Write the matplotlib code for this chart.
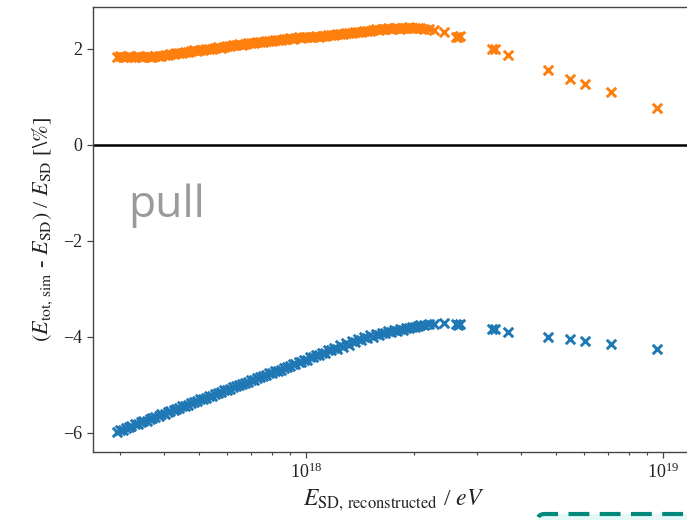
import matplotlib
matplotlib.use("Agg")
import matplotlib.pyplot as plt
from matplotlib.patches import FancyBboxPatch
from matplotlib.ticker import LogLocator, NullFormatter, FixedLocator

plt.rcParams["font.family"] = ["Liberation Serif", "DejaVu Serif"]
plt.rcParams["mathtext.fontset"] = "stix"

# reconstructed SD energy of each event, in units of 1e18 eV
energy = [
    0.295, 0.300, 0.306, 0.312, 0.318, 0.324, 0.331, 0.337, 0.344, 0.350,
    0.357, 0.364, 0.371, 0.378, 0.386, 0.393, 0.401, 0.409, 0.416, 0.425,
    0.433, 0.441, 0.450, 0.458, 0.467, 0.476, 0.486, 0.495, 0.505, 0.514,
    0.524, 0.535, 0.545, 0.556, 0.566, 0.577, 0.589, 0.600, 0.612, 0.623,
    0.636, 0.648, 0.660, 0.673, 0.686, 0.700, 0.713, 0.727, 0.741, 0.756,
    0.770, 0.785, 0.800, 0.816, 0.832, 0.848, 0.864, 0.881, 0.898, 0.916,
    0.933, 0.952, 0.970, 0.989, 1.008, 1.028, 1.047, 1.068, 1.088, 1.110,
    1.131, 1.153, 1.175, 1.198, 1.221, 1.245, 1.269, 1.294, 1.319, 1.345,
    1.371, 1.397, 1.424, 1.452, 1.480, 1.509, 1.538, 1.568, 1.598, 1.629,
    1.661, 1.693, 1.726, 1.760, 1.794, 1.829, 1.864, 1.900, 1.937, 1.975,
    2.013, 2.052, 2.087, 2.141, 2.211, 2.282, 2.433, 2.627, 2.661, 2.695,
    3.306, 3.370, 3.687, 4.763, 5.482, 6.034, 7.126, 9.624,
]

# deviation with the pulled-in ("pull") contribution, in percent
dev_orange = [
    1.84, 1.85, 1.83, 1.84, 1.86, 1.83, 1.84, 1.85, 1.84, 1.83,
    1.85, 1.84, 1.83, 1.85, 1.86, 1.86, 1.88, 1.87, 1.89, 1.90,
    1.91, 1.92, 1.91, 1.94, 1.93, 1.95, 1.97, 1.95, 1.98, 1.97,
    1.99, 2.01, 2.00, 2.02, 2.04, 2.03, 2.05, 2.06, 2.06, 2.08,
    2.08, 2.10, 2.09, 2.11, 2.12, 2.13, 2.12, 2.14, 2.15, 2.14,
    2.16, 2.17, 2.16, 2.18, 2.19, 2.19, 2.21, 2.20, 2.22, 2.21,
    2.23, 2.24, 2.23, 2.25, 2.24, 2.26, 2.25, 2.27, 2.26, 2.28,
    2.27, 2.29, 2.30, 2.29, 2.31, 2.32, 2.31, 2.33, 2.34, 2.33,
    2.35, 2.36, 2.35, 2.37, 2.38, 2.37, 2.39, 2.41, 2.40, 2.42,
    2.41, 2.43, 2.42, 2.43, 2.44, 2.42, 2.44, 2.43, 2.45, 2.44,
    2.44, 2.43, 2.43, 2.42, 2.41, 2.39, 2.35, 2.26, 2.25, 2.27,
    1.99, 2.00, 1.87, 1.56, 1.38, 1.28, 1.11, 0.78,
]

# deviation without it, in percent
dev_blue = [
    -5.97, -5.94, -5.93, -5.90, -5.87, -5.86, -5.82, -5.81, -5.78, -5.75,
    -5.74, -5.70, -5.69, -5.67, -5.64, -5.61, -5.60, -5.56, -5.55, -5.53,
    -5.49, -5.48, -5.44, -5.43, -5.41, -5.37, -5.36, -5.34, -5.30, -5.29,
    -5.27, -5.23, -5.22, -5.18, -5.17, -5.15, -5.11, -5.10, -5.08, -5.04,
    -5.03, -5.01, -4.97, -4.96, -4.94, -4.90, -4.89, -4.86, -4.83, -4.82,
    -4.79, -4.76, -4.75, -4.71, -4.70, -4.68, -4.64, -4.63, -4.60, -4.57,
    -4.56, -4.52, -4.52, -4.47, -4.47, -4.42, -4.42, -4.37, -4.37, -4.33,
    -4.33, -4.27, -4.28, -4.22, -4.24, -4.17, -4.20, -4.13, -4.16, -4.09,
    -4.11, -4.04, -4.07, -4.00, -4.03, -3.96, -3.99, -3.93, -3.96, -3.91,
    -3.92, -3.88, -3.90, -3.86, -3.87, -3.83, -3.85, -3.81, -3.82, -3.79,
    -3.80, -3.77, -3.75, -3.74, -3.73, -3.72, -3.70, -3.73, -3.74, -3.73,
    -3.83, -3.84, -3.90, -4.00, -4.05, -4.09, -4.15, -4.26,
]

x_ev = [e * 1e18 for e in energy]

W, H = 687, 520
fig = plt.figure(figsize=(W / 100, H / 100), dpi=100)
# the frame runs past the right-hand edge of the canvas
ax = fig.add_axes([93 / W, (H - 452) / H, (694 - 93) / W, (452 - 7) / H])

ax.scatter(x_ev, dev_blue, marker="x", s=46, linewidths=2.1,
           color="#1f77b4", zorder=3)
ax.scatter(x_ev, dev_orange, marker="x", s=46, linewidths=2.1,
           color="#ff7f0e", zorder=3)
ax.axhline(0, color="black", lw=1.8, zorder=2)

ax.set_xscale("log")
ax.set_xlim(2.528e17, 1.22e19)
ax.set_ylim(-6.396, 2.875)
ax.yaxis.set_major_locator(FixedLocator([-6, -4, -2, 0, 2]))
ax.xaxis.set_minor_locator(LogLocator(base=10, subs=range(2, 10), numticks=20))
ax.xaxis.set_minor_formatter(NullFormatter())

for side in ("left", "bottom", "top"):
    ax.spines[side].set_color("#444444")
    ax.spines[side].set_linewidth(1.0)
ax.spines["right"].set_visible(False)
ax.tick_params(which="major", length=4, width=0.9, color="#444444",
               labelsize=13, labelcolor="#222222")
ax.tick_params(which="minor", length=2.5, width=0.8, color="#444444")

ax.set_xlabel(r"$E_\mathrm{SD,\,reconstructed}$ / $eV$", fontsize=17,
              color="#222222", labelpad=4)
ax.set_ylabel(r"$(E_\mathrm{tot,\,sim}$ - $E_\mathrm{SD})$ / $E_\mathrm{SD}$ [$\backslash\%$]",
              fontsize=16, color="#222222", labelpad=6)

fig.text(128 / W, 1 - 206 / H, "pull", fontsize=32, color="#9a9a9a",
         family=["Open Sans", "DejaVu Sans"], va="center", ha="left")

box = FancyBboxPatch((538 / W, -0.05), 0.5, (H - 514) / H + 0.05,
                     boxstyle="round,pad=0,rounding_size=0.01",
                     transform=fig.transFigure, facecolor="#e4f8f8",
                     edgecolor="#00897b", linewidth=3,
                     linestyle=(0, (5, 2.5)), clip_on=False)
fig.patches.append(box)

fig.savefig("out.png", dpi=100)
